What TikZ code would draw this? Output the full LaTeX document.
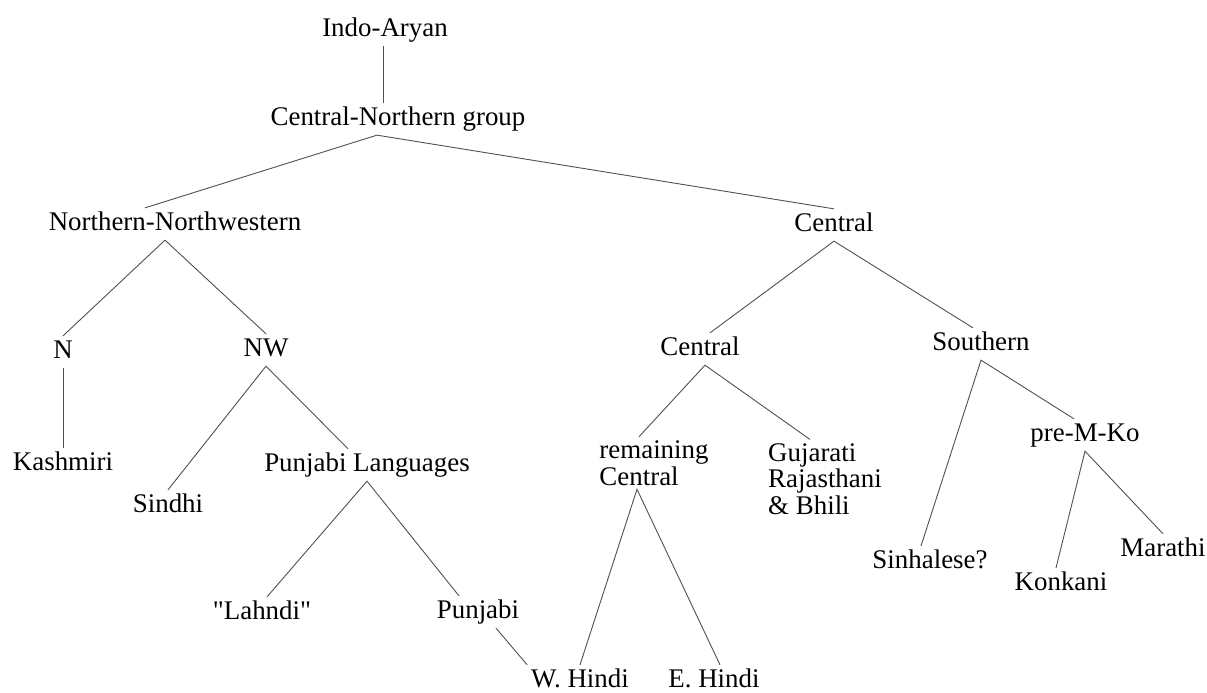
\documentclass[tikz,border=0pt]{standalone}
\usepackage{fontspec}
\setmainfont{Liberation Serif}
\usepackage{tikz}
\usetikzlibrary{positioning}
\usepackage{xcolor}
\definecolor{branchgray}{RGB}{80,80,80}
\tikzset{
  lang/.style={inner sep=0pt,outer sep=4pt,text height=18.4pt,text depth=5.9pt,font=\fontsize{26.9pt}{26.5pt}\selectfont},
  multilang/.style={inner sep=0pt,outer sep=4pt,align=left,font=\fontsize{26.9pt}{26.5pt}\selectfont},
  branch/.style={draw=branchgray,line width=0.9pt}
}
\begin{document}
\begin{tikzpicture}[x=1pt,y=-1pt]
\useasboundingbox (0,0) rectangle (1207,693);
% upper levels
\node[lang] (ia) at (385,30) {Indo-Aryan};
\node[lang] (cng) at (398,119) {Central-Northern group};
\node[lang] (nnw) at (175,224) {Northern-Northwestern};
\node[lang] (cen) at (834,225) {Central};
% northern side
\node[lang] (n) at (63,352) {N};
\node[lang] (nw) at (266,350) {NW};
\node[lang] (kash) at (63,464) {Kashmiri};
\node[lang] (sindhi) at (168,506) {Sindhi};
\node[lang] (pl) at (367,465) {Punjabi Languages};
\node[lang] (lahndi) at (262,613) {\textquotedbl Lahndi\textquotedbl};
\node[lang] (pun) at (478,612) {Punjabi};
\node[lang] (wh) at (580,681) {W. Hindi};
\node[lang] (eh) at (714,681) {E. Hindi};
% central side
\node[lang] (cm) at (700,349) {Central};
\node[lang] (so) at (981,344) {Southern};
\node[multilang] (rc) at (654,463) {remaining\\Central};
\node[multilang] (grb) at (825,479) {Gujarati\\Rajasthani\\\& Bhili};
\node[lang] (sin) at (930,562) {Sinhalese?};
\node[lang] (pmk) at (1085,435) {pre-M-Ko};
\node[lang] (kon) at (1061,584) {Konkani};
\node[lang] (mar) at (1163,550) {Marathi};
% branches
\draw[branch] ([xshift=-2pt]ia.south) -- ([xshift=-15pt]cng.north);
\draw[branch] ([xshift=-30pt]nnw.north) -- ([xshift=-21pt]cng.south) -- (cen.north);
\draw[branch] (n.north) -- ([xshift=-10pt]nnw.south) -- (nw.north);
\draw[branch] (n.south) -- (kash.north);
\draw[branch] (sindhi.north) -- (nw.south) -- ([xshift=-19pt]pl.north);
\draw[branch] ([xshift=5pt]lahndi.north) -- (pl.south) -- ([xshift=-19pt]pun.north);
\draw[branch] ([xshift=18pt]pun.south) -- (wh.north west);
\draw[branch] ([xshift=10pt]cm.north) -- (cen.south) -- ([xshift=-8pt]so.north);
\draw[branch] ([xshift=-15pt]rc.north) -- ([xshift=5pt]cm.south) -- ([xshift=-15pt]grb.north);
\draw[branch] (wh.north) -- ([xshift=-17pt]rc.south) -- ([xshift=6pt]eh.north);
\draw[branch] ([xshift=-9pt]sin.north) -- (so.south) -- ([xshift=-11pt]pmk.north);
\draw[branch] ([xshift=-5pt]kon.north) -- (pmk.south) -- (mar.north);
\end{tikzpicture}
\end{document}
